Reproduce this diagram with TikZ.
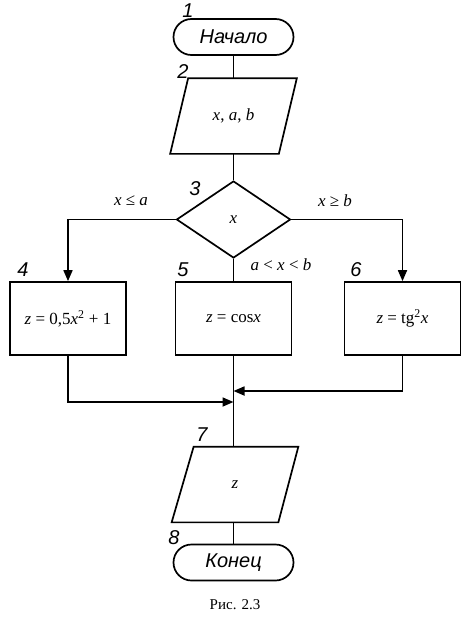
\documentclass[tikz,border=0pt]{standalone}
\usepackage{fontspec}
\setmainfont{Liberation Serif}
\newfontfamily\arialfont{Liberation Sans}
\usetikzlibrary{shapes.geometric,shapes.misc,arrows.meta}
\begin{document}
\begin{tikzpicture}[x=1pt,y=-1pt, line width=1.7pt,
  term/.style={draw, rounded rectangle, minimum width=120pt, minimum height=36pt, inner sep=0pt,
    font=\arialfont\itshape\fontsize{20}{20}\selectfont},
  io/.style={rectangle, minimum width=125pt, minimum height=74pt, inner sep=0pt,
    font=\fontsize{17}{17}\selectfont},
  para/.style={line join=miter},
  proc/.style={draw, rectangle, minimum width=116pt, minimum height=73pt, inner sep=0pt,
    font=\fontsize{17}{17}\selectfont},
  dec/.style={draw, diamond, minimum width=114pt, minimum height=77pt, inner sep=0pt,
    font=\fontsize{17}{17}\selectfont},
  num/.style={font=\arialfont\itshape\fontsize{20}{20}\selectfont, inner sep=0pt},
  cond/.style={font=\fontsize{17}{17}\selectfont, inner sep=0pt},
  arr/.style={-{Triangle[length=11pt,width=9pt]}},
  every path/.style={line join=miter}]
\useasboundingbox (0,0) rectangle (472,624);
% blocks
\node[term] (start) at (233.5,37) {Начало};
\node[io] (in) at (233.5,116) {\textit{x}, \textit{a}, \textit{b}};
\draw[para] (in.south west) -- ([xshift=18pt]in.north west) -- (in.north east) -- ([xshift=-18pt]in.south east) -- cycle;
\node[dec] (d) at (233.5,219.5) {\textit{x}};
\node[proc] (b4) at (68,318.5) {\textit{z} = 0,5\textit{x}\textsuperscript{2} + 1};
\node[proc] (b5) at (233.5,318.5) {\textit{z} = cos\textit{x}};
\node[proc] (b6) at (402.5,318.5) {\textit{z} = tg\textsuperscript{2}\textit{x}};
\node[io] (out) at (235,484.5) {\textit{z}};
\draw[para] (out.south west) -- ([xshift=22pt]out.north west) -- (out.north east) -- ([xshift=-20pt]out.south east) -- cycle;
\node[term] (stop) at (233.5,562.5) {Конец};
% numbers
\node[num] (n1) at (188,11) {1};
\node[num] (n2) at (183,72) {2};
\node[num] (n3) at (195,189) {3};
\node[num] (n4) at (23,270) {4};
\node[num] (n5) at (183,270) {5};
\node[num] (n6) at (356,270) {6};
\node[num] (n7) at (202,435) {7};
\node[num] (n8) at (174,538) {8};
% conditions
\node[cond] (c1) at (131,201) {\textit{x} ≤ \textit{a}};
\node[cond] (c2) at (335,201) {\textit{x} ≥ \textit{b}};
\node[cond] (c3) at (281,265) {\textit{a} < \textit{x} < \textit{b}};
% caption
\node[font=\fontsize{15}{15}\selectfont, inner sep=0pt] (cap) at (235,605) {Рис. 2.3};
% connectors
\coordinate (j1) at (233.5,402);
\coordinate (j2) at (233.5,391);
\draw (start.south) -- (in.north);
\draw (in.south) -- (d.north);
\draw[arr] (d.west) -| (b4.north);
\draw[arr] (d.east) -| (b6.north);
\draw (d.south) -- (b5.north);
\draw (b5.south) -- (j1);
\draw (j1) -- (out.north -| j1);
\draw[arr] (b4.south) |- (j1);
\draw[arr] (b6.south) |- (j2);
\draw (out.south -| stop.north) -- (stop.north);
\end{tikzpicture}
\end{document}
